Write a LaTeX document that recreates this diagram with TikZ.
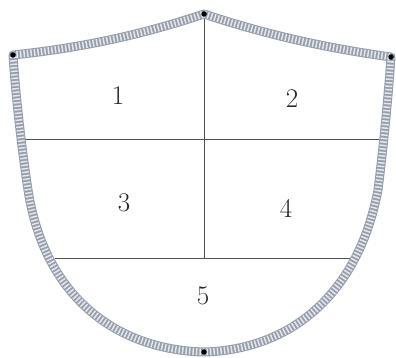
\documentclass[tikz,border=0pt]{standalone}
\usetikzlibrary{calc}
\definecolor{ropecol}{RGB}{150,158,172}
\definecolor{ropelight}{RGB}{228,231,236}
\definecolor{inkline}{RGB}{80,80,80}
\tikzset{
  rope/.style={line width=9pt, color=ropecol, line join=round},
  ropestripe/.style={line width=7pt, color=ropelight, dash pattern=on 1.5pt off 2pt, line join=round},
  divider/.style={line width=1pt, color=inkline},
  pin/.style={circle, fill=black, inner sep=0pt, minimum size=5.5pt},
  num/.style={font=\fontsize{27}{27}\selectfont, text=black!85}
}
\begin{document}
\begin{tikzpicture}[x=1pt, y=-1pt]
\useasboundingbox (0,0) rectangle (396,358);
% corner points
\coordinate (TL) at (13,55);
\coordinate (T) at (204,14);
\coordinate (TR) at (391,57);
\coordinate (B) at (204,352);
\coordinate (LS) at (28,190);
\coordinate (RS) at (378,190);
% divider end points
\coordinate (h1l) at (24,140);
\coordinate (h1r) at (383,140);
\coordinate (h2l) at (55,258);
\coordinate (h2r) at (351,258);
\coordinate (vtop) at (204,14);
\coordinate (vbot) at (204,258);
% dividers
\draw[divider] (h1l) -- (h1r);
\draw[divider] (h2l) -- (h2r);
\draw[divider] (vtop) -- (vbot);
% shield border
\def\shieldpath{(TL) .. controls (90,47) and (150,32) .. (T)
  .. controls (258,32) and (318,47) .. (TR)
  .. controls (388,100) and (383,150) .. (RS)
  .. controls (357,300) and (285,350) .. (B)
  .. controls (120,350) and (45,300) .. (LS)
  .. controls (22,150) and (16,100) .. cycle}
\draw[rope] \shieldpath;
\draw[ropestripe] \shieldpath;
% pins
\node[pin] (pTL) at (TL) {};
\node[pin] (pT) at (T) {};
\node[pin] (pTR) at (TR) {};
\node[pin] (pB) at (B) {};
% numbers
\node[num] (n1) at (118,96) {1};
\node[num] (n2) at (292,99) {2};
\node[num] (n3) at (124,203) {3};
\node[num] (n4) at (286,208) {4};
\node[num] (n5) at (203,296) {5};
\end{tikzpicture}
\end{document}
